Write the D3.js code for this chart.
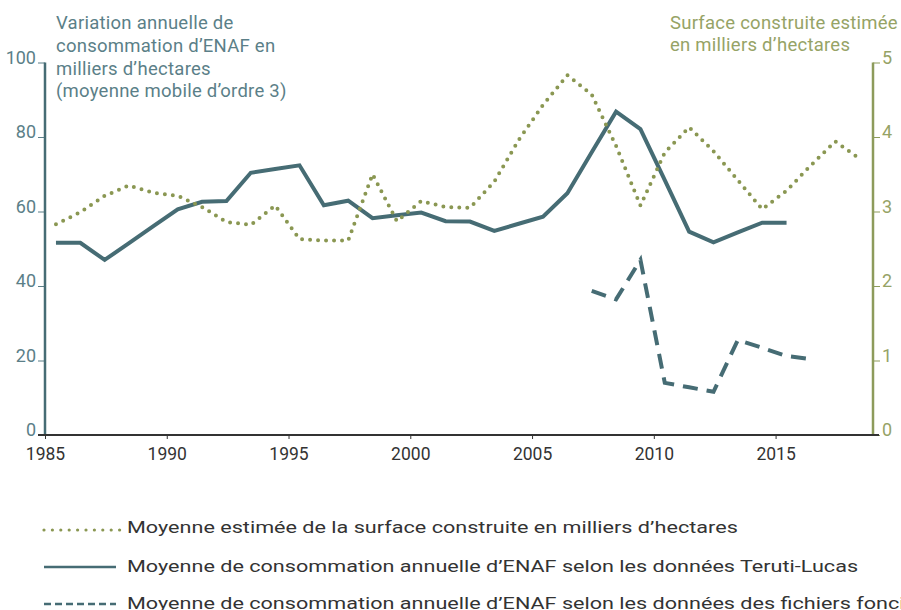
<!DOCTYPE html>
<html>
<head>
<meta charset="utf-8">
<script src="https://cdn.jsdelivr.net/npm/d3@7/dist/d3.min.js"></script>
<style>
  html, body { margin: 0; padding: 0; background: #ffffff; }
  svg { display: block; }
  text { font-family: "Roboto", "DejaVu Sans", sans-serif; }
</style>
</head>
<body>
<svg id="chart" width="901" height="610"></svg>
<script>
// ---------- DATA ----------
const xTicks = [1985, 1990, 1995, 2000, 2005, 2010, 2015];
const leftTicks = [0, 20, 40, 60, 80, 100];
const rightTicks = [0, 1, 2, 3, 4, 5];

// Surface construite estimée (milliers d'hectares) - right axis, 1985..2018
const surfaceYears = d3.range(1985, 2019);
const surfaceValues = [2.83, 2.99, 3.21, 3.35, 3.25, 3.21, 3.06, 2.86, 2.82, 3.08,
                       2.63, 2.61, 2.61, 3.50, 2.87, 3.14, 3.06, 3.05, 3.40, 3.96,
                       4.43, 4.83, 4.57, 3.88, 3.08, 3.79, 4.13, 3.81, 3.42, 3.03,
                       3.28, 3.62, 3.94, 3.71];

// Teruti-Lucas (left axis), 1985..2015
const terutiYears = d3.range(1985, 2016);
const terutiValues = [51.6, 51.6, 47.0, 51.5, 56.1, 60.6, 62.6, 62.8, 70.4, 71.4,
                      72.4, 61.7, 62.9, 58.2, 59.0, 59.7, 57.4, 57.3, 54.8, 56.7,
                      58.6, 64.9, 75.9, 86.8, 82.1, 68.4, 54.6, 51.7, 54.4, 57.0,
                      57.0];

// Fichiers fonciers (left axis), 2007..2016
const foncierYears = d3.range(2007, 2017);
const foncierValues = [38.7, 36.4, 47.0, 14.0, 12.8, 11.6, 25.5, 23.4, 21.2, 20.4];

const leftTitle = ["Variation annuelle de", "consommation d\u2019ENAF en", "milliers d\u2019hectares", "(moyenne mobile d\u2019ordre 3)"];
const rightTitle = ["Surface construite estimée", "en milliers d\u2019hectares"];
const legendLabels = [
  "Moyenne estimée de la surface construite en milliers d\u2019hectares",
  "Moyenne de consommation annuelle d\u2019ENAF selon les données Teruti-Lucas",
  "Moyenne de consommation annuelle d\u2019ENAF selon les données des fichiers fonciers"
];

// ---------- STYLE ----------
const teal = "#466c74", tealText = "#5b7f88";
const olive = "#8a9752", oliveAxis = "#8d9b5b", oliveText = "#96a366";
const dark = "#333333";
const midYear = 0.45; // values are positioned mid-year

const svg = d3.select("#chart");

const x = d3.scaleLinear().domain([1985, 2019]).range([45, 873]);
const yL = d3.scaleLinear().domain([0, 100]).range([435, 62.5]);
const yR = d3.scaleLinear().domain([0, 5]).range([435, 62.5]);

// ---------- AXES ----------
const gL = svg.append("g").attr("transform", `translate(${x(1985)},0)`)
  .call(d3.axisLeft(yL).tickValues(leftTicks).tickFormat(d3.format("d")).tickSize(7).tickPadding(2));
gL.select(".domain").remove();
gL.selectAll(".tick line").attr("stroke", tealText).attr("stroke-width", 1);
gL.selectAll(".tick text").attr("dy", "0.05em").attr("fill", tealText)
  .style("font-size", "18px");
svg.append("line").attr("x1", x(1985)).attr("x2", x(1985))
  .attr("y1", yL(100)).attr("y2", yL(0)).attr("stroke", teal).attr("stroke-width", 2.5);

const gR = svg.append("g").attr("transform", `translate(${x(2019)},0)`)
  .call(d3.axisRight(yR).tickValues(rightTicks).tickFormat(d3.format("d")).tickSize(7).tickPadding(2));
gR.select(".domain").remove();
gR.selectAll(".tick line").attr("stroke", oliveAxis).attr("stroke-width", 1);
gR.selectAll(".tick text").attr("dy", "0.05em").attr("fill", oliveText)
  .style("font-size", "18px");
svg.append("line").attr("x1", x(2019)).attr("x2", x(2019))
  .attr("y1", yR(5)).attr("y2", yR(0)).attr("stroke", oliveAxis).attr("stroke-width", 2.5);

const gX = svg.append("g").attr("transform", `translate(0,${yL(0)})`)
  .call(d3.axisBottom(x).tickValues(xTicks).tickFormat(d3.format("d")).tickSize(4));
gX.select(".domain").remove();
gX.selectAll(".tick line").attr("stroke", dark).attr("stroke-width", 1);
gX.selectAll(".tick text").attr("y", 25).attr("dy", 0).attr("fill", dark)
  .style("font-size", "17.5px");
svg.append("line").attr("x1", x(1985) - 7).attr("x2", x(2019) + 6)
  .attr("y1", yL(0)).attr("y2", yL(0)).attr("stroke", dark).attr("stroke-width", 2);

// ---------- TITLES ----------
svg.append("text").attr("x", 56).attr("y", 29).attr("fill", tealText)
  .style("font-size", "18.5px").style("letter-spacing", "0.25px")
  .selectAll("tspan").data(leftTitle).join("tspan")
  .attr("x", 56).attr("dy", (d, i) => i === 0 ? 0 : 22.8).text(d => d);

svg.append("text").attr("x", 670).attr("y", 28.5).attr("fill", oliveText)
  .style("font-size", "18.5px").style("letter-spacing", "0.25px")
  .selectAll("tspan").data(rightTitle).join("tspan")
  .attr("x", 670).attr("dy", (d, i) => i === 0 ? 0 : 22).text(d => d);

// ---------- LINES ----------
const lineSurface = d3.line().x((d, i) => x(surfaceYears[i] + midYear)).y(d => yR(d));
const lineTeruti = d3.line().x((d, i) => x(terutiYears[i] + midYear)).y(d => yL(d));
const lineFoncier = d3.line().x((d, i) => x(foncierYears[i] + midYear)).y(d => yL(d));

svg.append("path").attr("d", lineTeruti(terutiValues))
  .attr("fill", "none").attr("stroke", teal).attr("stroke-width", 4)
  .attr("stroke-linejoin", "miter");

svg.append("path").attr("d", lineFoncier(foncierValues))
  .attr("fill", "none").attr("stroke", teal).attr("stroke-width", 4)
  .attr("stroke-dasharray", "15,9");

svg.append("path").attr("d", lineSurface(surfaceValues))
  .attr("fill", "none").attr("stroke", olive).attr("stroke-width", 4)
  .attr("stroke-linecap", "round").attr("stroke-dasharray", "0,8");

// ---------- LEGEND ----------
const legY = [530, 567, 604];
const legStyles = [
  { color: olive, width: 3.2, dash: "0,8.4", cap: "round" },
  { color: teal, width: 2.6, dash: null, cap: "butt" },
  { color: teal, width: 2.6, dash: "7,4", cap: "butt" }
];
const leg = svg.append("g");
const legTexts = [];
legendLabels.forEach((lab, i) => {
  const st = legStyles[i];
  leg.append("line").attr("x1", 44).attr("x2", i === 0 ? 123 : 116)
    .attr("y1", legY[i]).attr("y2", legY[i])
    .attr("stroke", st.color).attr("stroke-width", st.width)
    .attr("stroke-dasharray", st.dash).attr("stroke-linecap", st.cap);
  legTexts.push(leg.append("text").attr("x", 0).attr("y", 0)
    .attr("fill", dark).style("font-size", "16.5px").text(lab));
});
// the legend lettering is horizontally wide: stretch it so line 1 spans 127..738
const stretch = 611 / legTexts[0].node().getComputedTextLength();
legTexts.forEach((t, i) => {
  t.attr("transform", `translate(127,${legY[i] + 3 + (i === 0 ? 0 : 2)}) scale(${stretch},1)`);
});
</script>
</body>
</html>
